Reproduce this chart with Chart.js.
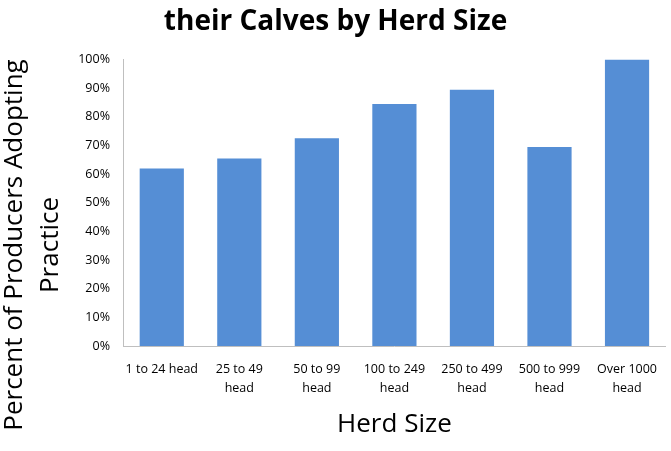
<!DOCTYPE html>
<html>
<head>
<meta charset="utf-8">
<script src="https://cdn.jsdelivr.net/npm/chart.js@4/dist/chart.umd.min.js"></script>
<style>
html,body{margin:0;padding:0;background:#fff;}
#wrap{width:671px;height:451px;position:relative;}
</style>
</head>
<body>
<div id="wrap"><canvas id="c" width="671" height="451"></canvas></div>
<script>
const categories = [
  "1 to 24 head",
  ["25 to 49", "head"],
  ["50 to 99", "head"],
  ["100 to 249", "head"],
  ["250 to 499", "head"],
  ["500 to 999", "head"],
  ["Over 1000", "head"]
];
const adoptionPercent = [62, 65.5, 72.5, 84.5, 89.5, 69.5, 100];
const yTickValues = [0,10,20,30,40,50,60,70,80,90,100];
const chartTitle = "their Calves by Herd Size";
const xAxisTitle = "Herd Size";
const yAxisTitle = ["Percent of Producers Adopting", "Practice"];

const FONT = "'Open Sans', sans-serif";

const axisTitles = {
  id: 'axisTitles',
  afterDraw(chart) {
    const ctx = chart.ctx;
    const a = chart.chartArea;
    ctx.save();
    ctx.fillStyle = '#000';
    ctx.textAlign = 'center';
    ctx.textBaseline = 'middle';
    ctx.font = "26px " + FONT;
    ctx.fillText(xAxisTitle, (a.left + a.right) / 2, 425);
    ctx.translate(0, 245);
    ctx.rotate(-Math.PI / 2);
    ctx.font = "26px " + FONT;
    ctx.fillText(yAxisTitle[0], 0, 15);
    ctx.fillText(yAxisTitle[1], 0, 51);
    ctx.restore();
  }
};

new Chart(document.getElementById('c'), {
  type: 'bar',
  data: {
    labels: categories,
    datasets: [{
      data: adoptionPercent,
      backgroundColor: 'rgb(85,142,213)',
      borderWidth: 0,
      categoryPercentage: 1,
      barPercentage: 0.57
    }]
  },
  options: {
    responsive: false,
    animation: false,
    devicePixelRatio: 1,
    layout: { padding: { left: 0, right: 0, top: 0, bottom: 0 } },
    plugins: {
      legend: { display: false },
      tooltip: { enabled: false },
      title: {
        display: true,
        text: chartTitle,
        color: '#000',
        font: { family: FONT, size: 28, weight: 'bold', lineHeight: 1.2 },
        padding: { top: 5, bottom: 21 }
      }
    },
    scales: {
      x: {
        grid: { display: false, drawTicks: false },
        border: { display: true, color: '#bfbfbf', width: 1 },
        ticks: {
          color: '#000',
          font: { family: FONT, size: 12.5, lineHeight: 1.5 },
          padding: 14,
          maxRotation: 0,
          autoSkip: false
        },
        afterFit(scale) { scale.height = 105; }
      },
      y: {
        min: 0,
        max: 100,
        afterBuildTicks(scale) { scale.ticks = yTickValues.map(v => ({ value: v })); },
        grid: { display: false, drawTicks: false },
        border: { display: true, color: '#bfbfbf', width: 1 },
        ticks: {
          color: '#000',
          font: { family: FONT, size: 12.5 },
          padding: 13,
          callback: v => v + '%'
        },
        afterFit(scale) { scale.width = 123; }
      }
    }
  },
  plugins: [axisTitles]
});
</script>
</body>
</html>
